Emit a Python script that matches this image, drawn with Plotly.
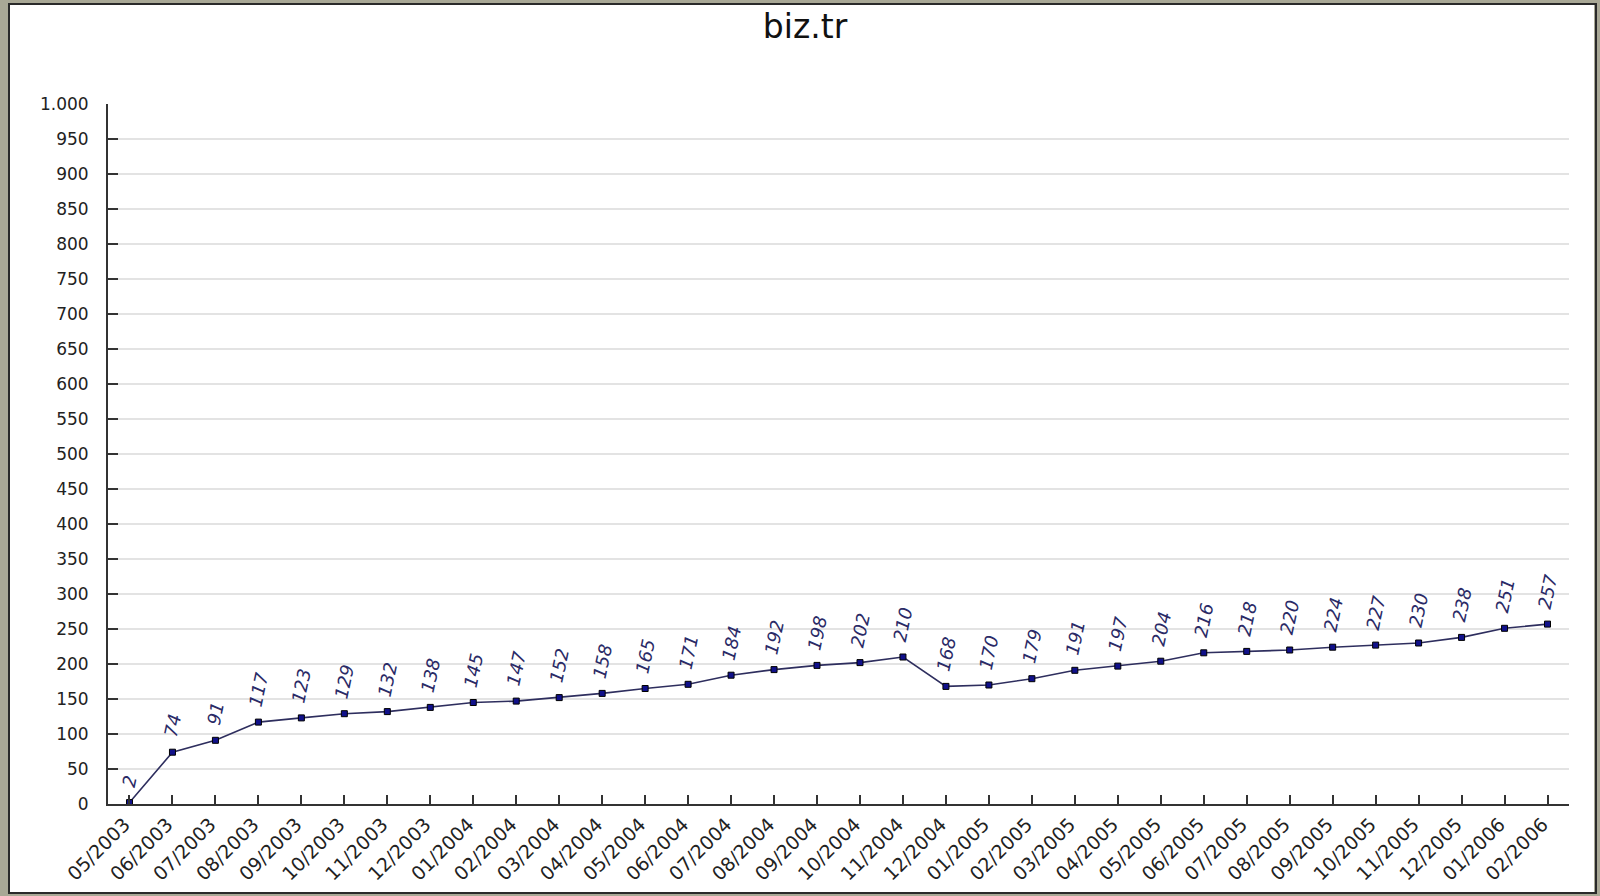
import plotly.graph_objects as go

months = ["05/2003", "06/2003", "07/2003", "08/2003", "09/2003", "10/2003", "11/2003", "12/2003",
          "01/2004", "02/2004", "03/2004", "04/2004", "05/2004", "06/2004", "07/2004", "08/2004",
          "09/2004", "10/2004", "11/2004", "12/2004", "01/2005", "02/2005", "03/2005", "04/2005",
          "05/2005", "06/2005", "07/2005", "08/2005", "09/2005", "10/2005", "11/2005", "12/2005",
          "01/2006", "02/2006"]
values = [2, 74, 91, 117, 123, 129, 132, 138, 145, 147, 152, 158, 165, 171, 184, 192,
          198, 202, 210, 168, 170, 179, 191, 197, 204, 216, 218, 220, 224, 227, 230, 238,
          251, 257]
y_ticks = list(range(0, 1001, 50))
y_tick_text = ["1.000" if v == 1000 else str(v) for v in y_ticks]

W, H = 1600, 896
L, R, T, B = 108, 1569, 104, 804
FONT = "DejaVu Sans, Verdana, sans-serif"

def px(x):
    return (x - L) / (R - L)

def py(y):
    return (B - y) / (B - T)

fig = go.Figure()
fig.add_trace(go.Scatter(
    x=months, y=values, mode="lines+markers",
    line=dict(color="#2e2e5e", width=1.6),
    marker=dict(symbol="square", size=6, color="#10108a", line=dict(color="#000000", width=1)),
    hoverinfo="x+y", showlegend=False,
))

for m, v in zip(months, values):
    fig.add_annotation(
        x=m, y=v, xref="x", yref="y", text=str(v), showarrow=False,
        textangle=-78, xanchor="center", yanchor="bottom", yshift=11,
        font=dict(family=FONT, size=18, color="#2a2a66", style="italic"),
    )

shapes = []
frame_col = "#a9a896"
shapes.append(dict(type="rect", xref="paper", yref="paper", x0=px(0), x1=px(8), y0=py(896), y1=py(0),
                   fillcolor=frame_col, line=dict(width=0), layer="below"))
shapes.append(dict(type="rect", xref="paper", yref="paper", x0=px(0), x1=px(1600), y0=py(3), y1=py(0),
                   fillcolor=frame_col, line=dict(width=0), layer="below"))
shapes.append(dict(type="rect", xref="paper", yref="paper", x0=px(1594), x1=px(1600), y0=py(896), y1=py(0),
                   fillcolor=frame_col, line=dict(width=0), layer="below"))
shapes.append(dict(type="rect", xref="paper", yref="paper", x0=px(0), x1=px(1600), y0=py(896), y1=py(894),
                   fillcolor=frame_col, line=dict(width=0), layer="below"))
shapes.append(dict(type="rect", xref="paper", yref="paper", x0=px(9), x1=px(1596), y0=py(893), y1=py(4),
                   fillcolor="rgba(0,0,0,0)", line=dict(color="#2a2a2a", width=2), layer="below"))

fig.update_layout(
    width=W, height=H,
    margin=dict(l=L, r=W - R, t=T, b=H - B, pad=0),
    paper_bgcolor="#ffffff", plot_bgcolor="#ffffff",
    title=dict(text="biz.tr", x=805 / W, xref="container", xanchor="center", y=1 - 26 / H, yanchor="middle",
               font=dict(family=FONT, size=33, color="#111111")),
    font=dict(family=FONT, size=16, color="#222222"),
    shapes=shapes,
)
fig.update_xaxes(
    type="category", range=[-0.5, len(months) - 0.5],
    showline=True, linecolor="#333333", linewidth=2,
    ticks="inside", ticklen=9, tickwidth=2, tickcolor="#333333",
    tickangle=-45, tickfont=dict(size=19, color="#222222"), ticklabelshift=-5,
    showgrid=False, zeroline=False,
)
fig.update_yaxes(
    range=[0, 1000], tickvals=y_ticks, ticktext=y_tick_text,
    showline=True, linecolor="#333333", linewidth=2,
    ticks="inside", ticklen=10, tickwidth=2, tickcolor="#333333",
    ticklabelstandoff=14, tickfont=dict(size=17, color="#222222"),
    showgrid=True, gridcolor="#e3e3e3", gridwidth=2, zeroline=False,
)

fig.write_html("out.html", config={"displayModeBar": False},
               post_script="document.body.style.margin='0';document.body.style.overflow='hidden';")
